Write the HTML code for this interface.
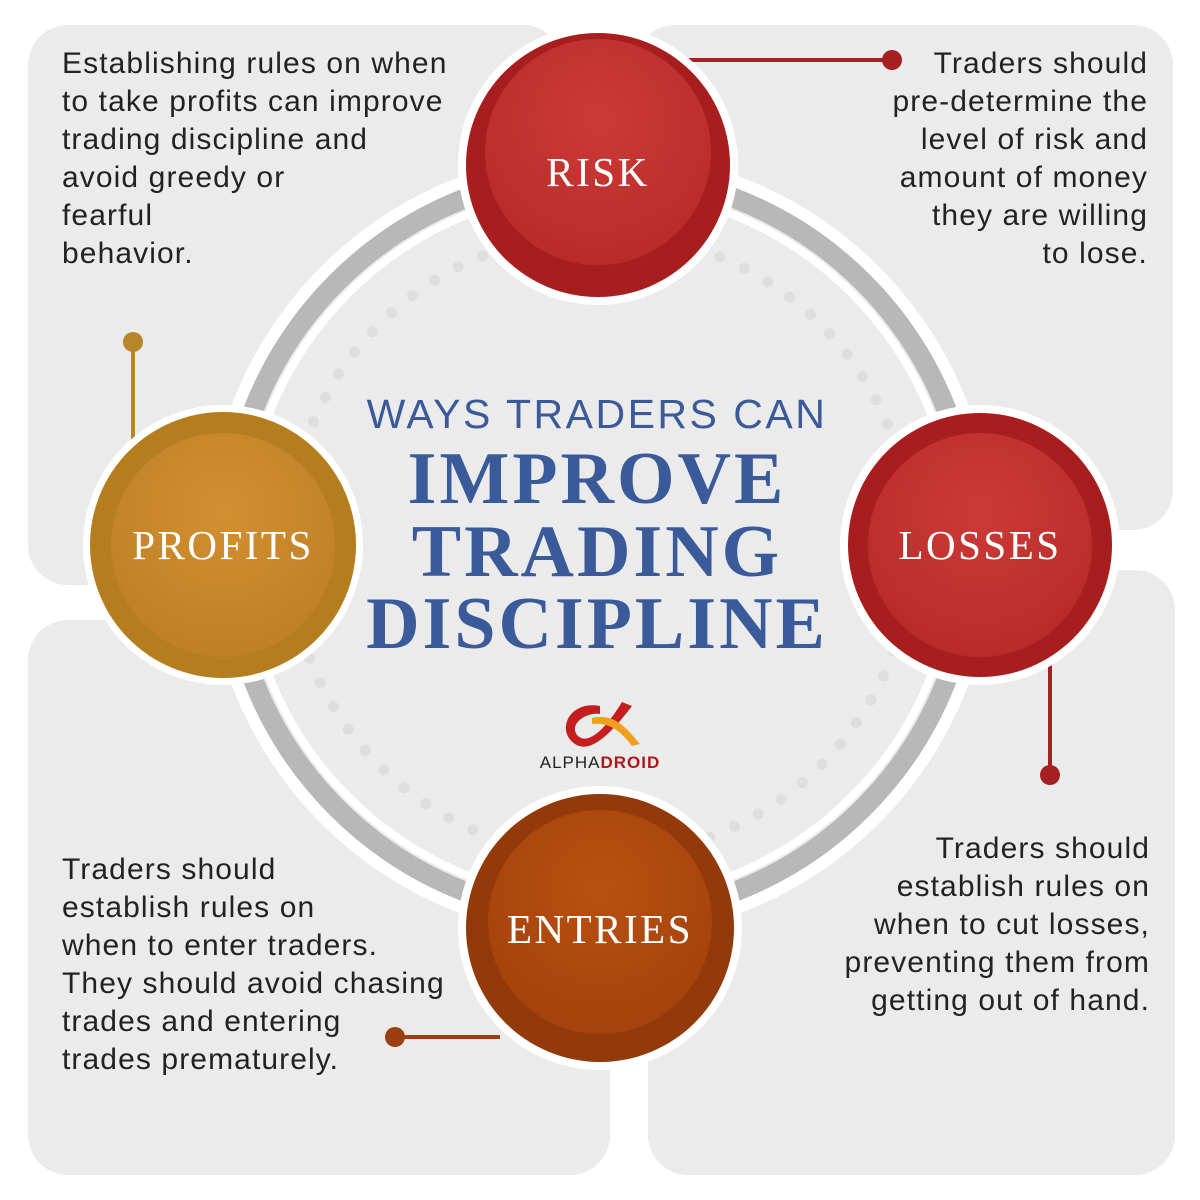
<!DOCTYPE html>
<html><head><style>
body{margin:0;width:1200px;height:1200px;background:#fff;position:relative;overflow:hidden;font-family:"Liberation Sans",sans-serif}
.p{position:absolute;background:#ebebeb;border-radius:40px}
.t{position:absolute;font-size:30px;line-height:38px;color:#222;letter-spacing:1.1px}
svg{position:absolute;left:0;top:0}
</style></head><body>
<div class="p" style="left:28px;top:25px;width:535px;height:560px"></div>
<div class="p" style="left:635px;top:25px;width:538px;height:505px"></div>
<div class="p" style="left:28px;top:620px;width:582px;height:555px"></div>
<div class="p" style="left:648px;top:570px;width:527px;height:605px"></div>
<svg width="1200" height="1200">
<defs>
<radialGradient id="r" cx="50%" cy="35%" r="65%"><stop offset="0" stop-color="#cc3a36"/><stop offset="1" stop-color="#b82b2a"/></radialGradient>
<radialGradient id="g" cx="50%" cy="35%" r="65%"><stop offset="0" stop-color="#d29030"/><stop offset="1" stop-color="#c07f25"/></radialGradient>
<radialGradient id="b" cx="50%" cy="35%" r="65%"><stop offset="0" stop-color="#b85010"/><stop offset="1" stop-color="#a4420c"/></radialGradient>
</defs>
<circle cx="600" cy="545" r="394" fill="#fff"/>
<circle cx="600" cy="545" r="372" fill="#ebebeb" stroke="#b8b8b8" stroke-width="20"/>
<circle cx="600" cy="545" r="356" fill="none" stroke="#fff" stroke-width="8"/>
<circle cx="600" cy="545" r="312" fill="none" stroke="#dedede" stroke-width="11" stroke-linecap="round" stroke-dasharray="0 27"/>
<line x1="672" y1="60" x2="892" y2="60" stroke="#a52020" stroke-width="4"/><circle cx="892" cy="60" r="10" fill="#a52020"/>
<line x1="133" y1="342" x2="133" y2="450" stroke="#b8862a" stroke-width="4"/><circle cx="133" cy="342" r="10" fill="#b8862a"/>
<line x1="1050" y1="640" x2="1050" y2="775" stroke="#a52020" stroke-width="4"/><circle cx="1050" cy="775" r="10" fill="#a52020"/>
<line x1="395" y1="1037" x2="500" y2="1037" stroke="#9a4010" stroke-width="4"/><circle cx="395" cy="1037" r="10" fill="#9a4010"/>
<circle cx="598" cy="165" r="140" fill="#fff"/><circle cx="598" cy="165" r="132" fill="#a81e1e"/><circle cx="598" cy="152" r="113" fill="url(#r)"/>
<circle cx="223" cy="545" r="140" fill="#fff"/><circle cx="223" cy="545" r="133" fill="#b47e1e"/><circle cx="223" cy="545" r="112" fill="url(#g)"/>
<circle cx="980" cy="545" r="140" fill="#fff"/><circle cx="980" cy="545" r="132" fill="#a81e1e"/><circle cx="980" cy="545" r="112" fill="url(#r)"/>
<circle cx="600" cy="928" r="142" fill="#fff"/><circle cx="600" cy="928" r="134" fill="#923a0a"/><circle cx="600" cy="922" r="112" fill="url(#b)"/>
<g font-family="Liberation Serif,serif" fill="#fff" font-size="41" text-anchor="middle" letter-spacing="2.5">
<text x="598" y="186">RISK</text><text x="223" y="559">PROFITS</text><text x="980" y="559">LOSSES</text><text x="600" y="943">ENTRIES</text></g>
<g text-anchor="middle" fill="#3b5a9a">
<text x="597" y="428" font-family="Liberation Sans,sans-serif" font-size="41" letter-spacing="2.5">WAYS TRADERS CAN</text>
<g font-family="Liberation Serif,serif" font-weight="bold" font-size="74" letter-spacing="3">
<text x="597" y="503">IMPROVE</text><text x="597" y="576">TRADING</text><text x="597" y="648">DISCIPLINE</text></g></g>
<path d="M600 706 C570 700 555 730 575 744 C590 754 610 735 632 706 L622 702 C605 730 588 745 578 736 C568 725 585 712 600 714 Z" fill="#c41e1e"/>
<path d="M592 718 C615 712 628 730 640 744 L632 746 C620 730 608 722 592 724Z" fill="#f0a020"/>
<text x="600" y="768" text-anchor="middle" font-size="17" letter-spacing="1" fill="#222" font-family="Liberation Sans,sans-serif">ALPHA<tspan fill="#b01818" font-weight="bold">DROID</tspan></text>
</svg>
<div class="t" style="left:62px;top:45px">Establishing rules on when<br>to take profits can improve<br>trading discipline and<br>avoid greedy or<br>fearful<br>behavior.</div>
<div class="t" style="right:52px;top:45px;text-align:right">Traders should<br>pre-determine the<br>level of risk and<br>amount of money<br>they are willing<br>to lose.</div>
<div class="t" style="left:62px;top:851px">Traders should<br>establish rules on<br>when to enter traders.<br>They should avoid chasing<br>trades and entering<br>trades prematurely.</div>
<div class="t" style="right:50px;top:830px;text-align:right">Traders should<br>establish rules on<br>when to cut losses,<br>preventing them from<br>getting out of hand.</div>
</body></html>
